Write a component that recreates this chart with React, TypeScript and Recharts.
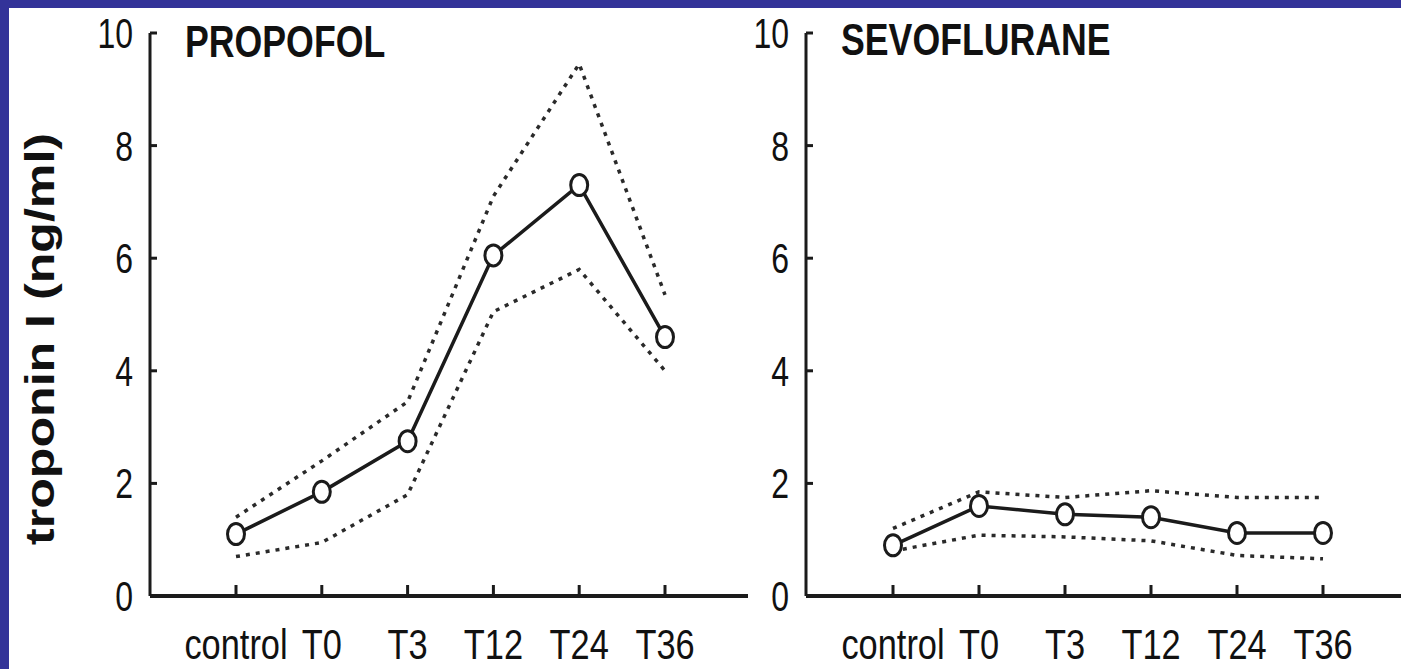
import React from 'react';
import { LineChart, Line, XAxis, YAxis } from 'recharts';

const categories = ['control', 'T0', 'T3', 'T12', 'T24', 'T36'];
const yTicks = [0, 2, 4, 6, 8, 10];

const propofolMean = [1.1, 1.85, 2.75, 6.05, 7.3, 4.6];
const propofolUpper = [1.4, 2.4, 3.45, 7.1, 9.45, 5.35];
const propofolLower = [0.7, 0.95, 1.8, 5.05, 5.8, 4.0];

const sevoMean = [0.9, 1.6, 1.45, 1.4, 1.12, 1.12];
const sevoUpper = [1.2, 1.85, 1.75, 1.87, 1.75, 1.75];
const sevoLower = [0.8, 1.08, 1.05, 0.98, 0.72, 0.66];

const titles = ['PROPOFOL', 'SEVOFLURANE'];
const yLabel = 'troponin I (ng/ml)';

const build = (mean: number[], upper: number[], lower: number[]) =>
  categories.map((c, i) => ({ cat: c, mean: mean[i], upper: upper[i], lower: lower[i] }));

const propofolData = build(propofolMean, propofolUpper, propofolLower);
const sevoData = build(sevoMean, sevoUpper, sevoLower);

const FONT = "'Liberation Sans', Arial, sans-serif";
const INK = '#1b1b1b';

const NText = ({ x, y, sx, sy, anchor, size, weight, children }: any) => (
  <text
    transform={`translate(${x} ${y}) scale(${sx} ${sy})`}
    x={0}
    y={0}
    textAnchor={anchor}
    fontSize={size}
    fontWeight={weight || 'normal'}
    fontFamily={FONT}
    fill="#111"
  >
    {children}
  </text>
);

const YTick = (props: any) => {
  const { x, y, payload } = props;
  return (
    <g>
      <line x1={x} x2={x + 7} y1={y} y2={y} stroke={INK} strokeWidth={3} />
      <NText x={x - 17} y={y + 15} sx={0.8} sy={1.05} anchor="end" size={40}>
        {payload.value}
      </NText>
    </g>
  );
};

const XTick = (props: any) => {
  const { x, y, payload } = props;
  return (
    <g>
      <line x1={x} x2={x} y1={y} y2={y - 11} stroke={INK} strokeWidth={3} />
      <NText x={x} y={y + 63} sx={0.86} sy={1.07} anchor="middle" size={40}>
        {payload.value}
      </NText>
    </g>
  );
};

const Dot = (props: any) => {
  const { cx, cy, index } = props;
  if (cx == null || cy == null) return <g key={`e-${index}`} />;
  return (
    <ellipse key={`d-${index}`} cx={cx} cy={cy} rx={8.5} ry={10.5} fill="#fff" stroke={INK} strokeWidth={3} />
  );
};

const Panel = ({ data, width, marginLeft, marginRight, padLeft, padRight }: any) => (
  <LineChart
    width={width}
    height={669}
    data={data}
    margin={{ top: 33, left: marginLeft, right: marginRight, bottom: 13 }}
  >
    <XAxis
      dataKey="cat"
      type="category"
      padding={{ left: padLeft, right: padRight }}
      height={60}
      tickSize={0}
      tickMargin={0}
      tickLine={false}
      axisLine={{ stroke: INK, strokeWidth: 4 }}
      tick={<XTick />}
      interval={0}
    />
    <YAxis
      domain={[0, 10]}
      ticks={yTicks}
      width={60}
      tickSize={0}
      tickMargin={0}
      tickLine={false}
      axisLine={{ stroke: INK, strokeWidth: 3 }}
      tick={<YTick />}
      interval={0}
    />
    <Line
      dataKey="upper"
      stroke="#2a2a2a"
      strokeWidth={3.5}
      strokeDasharray="4 6"
      dot={false}
      isAnimationActive={false}
    />
    <Line
      dataKey="lower"
      stroke="#2a2a2a"
      strokeWidth={3.5}
      strokeDasharray="4 6"
      dot={false}
      isAnimationActive={false}
    />
    <Line
      dataKey="mean"
      stroke={INK}
      strokeWidth={3.5}
      dot={<Dot />}
      isAnimationActive={false}
    />
  </LineChart>
);

export default function App() {
  return (
    <div style={{ position: 'absolute', left: 0, top: 0, width: 1401, height: 669, background: '#fff', overflow: 'hidden' }}>
      <div style={{ position: 'absolute', left: 0, top: 0 }}>
        <Panel data={propofolData} width={760} marginLeft={90} marginRight={12} padLeft={86} padRight={83} />
      </div>
      <div style={{ position: 'absolute', left: 746, top: 0 }}>
        <Panel data={sevoData} width={655} marginLeft={0} marginRight={0} padLeft={87} padRight={78} />
      </div>
      <svg width={1401} height={669} style={{ position: 'absolute', left: 0, top: 0, pointerEvents: 'none' }}>
        <NText x={185} y={57} sx={0.83} sy={1.05} anchor="start" size={43} weight="bold">
          {titles[0]}
        </NText>
        <NText x={841} y={55} sx={0.83} sy={1.05} anchor="start" size={43} weight="bold">
          {titles[1]}
        </NText>
        <text
          transform="translate(54 339) rotate(-90)"
          x={0}
          y={0}
          fontSize={40}
          fontWeight="bold"
          fontFamily={FONT}
          textAnchor="middle"
          fill="#111"
          textLength={412}
          lengthAdjust="spacingAndGlyphs"
        >
          {yLabel}
        </text>
      </svg>
      <div style={{ position: 'absolute', left: 0, top: 0, width: 9, height: 669, background: '#333399' }} />
      <div style={{ position: 'absolute', left: 0, top: 0, width: 1401, height: 8, background: '#333399' }} />
    </div>
  );
}
